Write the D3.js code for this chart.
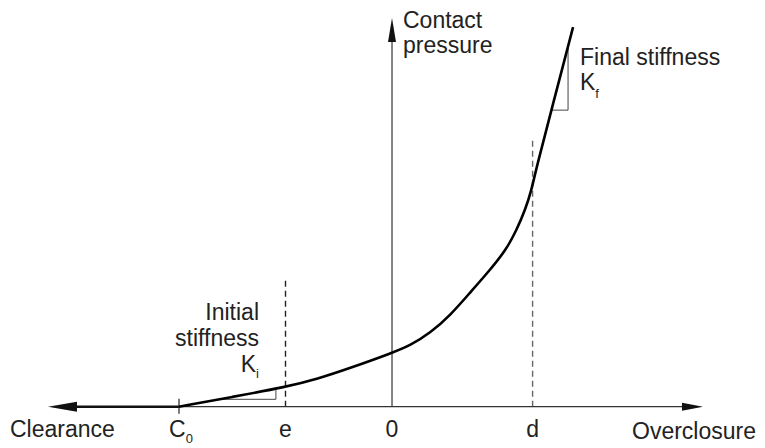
<!DOCTYPE html>
<html lang="en">
<head>
  <meta charset="UTF-8">
  <title>Contact pressure vs overclosure</title>
  <script src="https://d3js.org/d3.v7.min.js"></script>
  <style>
    body { margin: 0; background: #fff; }
    text {
      font-family: "Liberation Sans", Arial, sans-serif;
      font-size: 23px;
      fill: #222;
    }
    .sub { font-size: 13px; }
    .axis-thin { stroke: #333; stroke-width: 1.2; fill: none; }
    .curve { stroke: #000; stroke-width: 2.6; fill: none; }
    .guide { stroke: #222; stroke-width: 1.4; stroke-dasharray: 6,4; }
    .tri { stroke: #444; stroke-width: 1; fill: none; }
  </style>
</head>
<body>
  <div id="chart"></div>
  <script>
    // curve: overclosure (units of e) vs contact pressure
    const overclosure = [-2, -1.5, -1, -0.70, -0.39, 0, 0.17, 0.36, 0.55, 0.73, 0.92, 1.07, 1.17, 1.25, 1.31, 1.35, 1.52, 1.70];
    const pressure    = [0, 0.49, 0.98, 1.39, 1.94, 2.69, 3.06, 3.69, 4.59, 5.69, 6.84, 7.84, 8.84, 9.84, 10.84, 11.84, 15.32, 18.99];

    // marked positions on the overclosure axis
    const tickValues = [-2, -1, 0, 1.32];
    const tickLabels = [["C", "0"], ["e", ""], ["0", ""], ["d", ""]];
    const guideTops = [null, 6.3, null, 13.4];   // dashed lines at e and d

    const width = 765, height = 448;
    const svg = d3.select("#chart").append("svg")
      .attr("width", width).attr("height", height);

    const x = d3.scaleLinear().domain([-3.23, 2.92]).range([48, 703]);
    const y = d3.scaleLinear().domain([0, 19.45]).range([406.7, 18]);

    const pts = overclosure.map((v, i) => [v, pressure[i]]);

    // dashed guides
    tickValues.forEach((t, i) => {
      if (guideTops[i] == null) return;
      svg.append("line").attr("class", "guide")
        .attr("x1", x(t)).attr("x2", x(t))
        .attr("y1", y(0)).attr("y2", y(guideTops[i]))
        .style("stroke", i === 3 ? "#666" : "#222");
    });

    // horizontal axis: thick to the left of C0, thin to the right
    svg.append("line")
      .attr("x1", x(-3.23) + 20).attr("x2", x(-2))
      .attr("y1", y(0)).attr("y2", y(0))
      .attr("stroke", "#111").attr("stroke-width", 2.4);
    svg.append("line").attr("class", "axis-thin")
      .attr("x1", x(-2)).attr("x2", x(2.92) - 15)
      .attr("y1", y(0)).attr("y2", y(0));
    svg.append("path")
      .attr("d", `M${x(-3.23)},${y(0)} L${x(-3.23) + 29},${y(0) - 5} L${x(-3.23) + 29},${y(0) + 5} Z`)
      .attr("fill", "#111");
    svg.append("path")
      .attr("d", `M${x(2.92)},${y(0)} L${x(2.92) - 21},${y(0) - 4} L${x(2.92) - 21},${y(0) + 4} Z`)
      .attr("fill", "#111");

    // vertical axis
    svg.append("line").attr("class", "axis-thin")
      .attr("x1", x(0)).attr("x2", x(0))
      .attr("y1", y(0)).attr("y2", y(19.45) + 15);
    svg.append("path")
      .attr("d", `M${x(0)},${y(19.45)} L${x(0) - 4},${y(19.45) + 24} L${x(0) + 4},${y(19.45) + 24} Z`)
      .attr("fill", "#111");

    // C0 tick
    svg.append("line")
      .attr("x1", x(-2)).attr("x2", x(-2))
      .attr("y1", y(0) - 8).attr("y2", y(0) + 7)
      .attr("stroke", "#222").attr("stroke-width", 1.2);

    // stiffness triangles
    const slope0 = (pressure[2] - pressure[0]) / (overclosure[2] - overclosure[0]);
    const yiA = 0.37, xiA = -2 + yiA / slope0;
    const xiB = -1.09, yiB = (xiB + 2) * slope0;
    svg.append("path").attr("class", "tri")
      .attr("d", `M${x(xiA)},${y(yiA)} L${x(xiB)},${y(yiA)} L${x(xiB)},${y(yiB)}`);

    const n = overclosure.length;
    const slope1 = (pressure[n - 1] - pressure[n - 3]) / (overclosure[n - 1] - overclosure[n - 3]);
    const xfB = 1.653, yfB = pressure[n - 1] - (overclosure[n - 1] - xfB) * slope1;
    const yfA = 14.84, xfA = overclosure[n - 1] - (pressure[n - 1] - yfA) / slope1;
    svg.append("path").attr("class", "tri")
      .attr("d", `M${x(xfA)},${y(yfA)} L${x(xfB)},${y(yfA)} L${x(xfB)},${y(yfB)}`);

    // curve
    svg.append("path").attr("class", "curve")
      .attr("d", d3.line().x(d => x(d[0])).y(d => y(d[1])).curve(d3.curveBasis)(pts));

    // tick labels
    tickValues.forEach((t, i) => {
      const txt = svg.append("text")
        .attr("x", x(t) + (tickLabels[i][1] ? 2 : 0)).attr("y", 437)
        .attr("text-anchor", "middle");
      txt.append("tspan").text(tickLabels[i][0]);
      if (tickLabels[i][1]) {
        txt.append("tspan").attr("class", "sub").attr("dy", 6).text(tickLabels[i][1]);
      }
    });

    // axis titles
    svg.append("text").attr("x", 10).attr("y", 437).text("Clearance");
    svg.append("text").attr("x", 632).attr("y", 439).text("Overclosure");
    svg.append("text").attr("x", 403).attr("y", 28).text("Contact");
    svg.append("text").attr("x", 403).attr("y", 53).text("pressure");

    // annotations
    svg.append("text").attr("x", 580).attr("y", 65).text("Final stiffness");
    const kf = svg.append("text").attr("x", 580).attr("y", 90);
    kf.append("tspan").text("K");
    kf.append("tspan").attr("class", "sub").attr("dy", 8).text("f");

    svg.append("text").attr("x", 259).attr("y", 320).attr("text-anchor", "end").text("Initial");
    svg.append("text").attr("x", 259).attr("y", 346).attr("text-anchor", "end").text("stiffness");
    const ki = svg.append("text").attr("x", 259).attr("y", 372).attr("text-anchor", "end");
    ki.append("tspan").text("K");
    ki.append("tspan").attr("class", "sub").attr("dy", 6).text("i");
  </script>
</body>
</html>
